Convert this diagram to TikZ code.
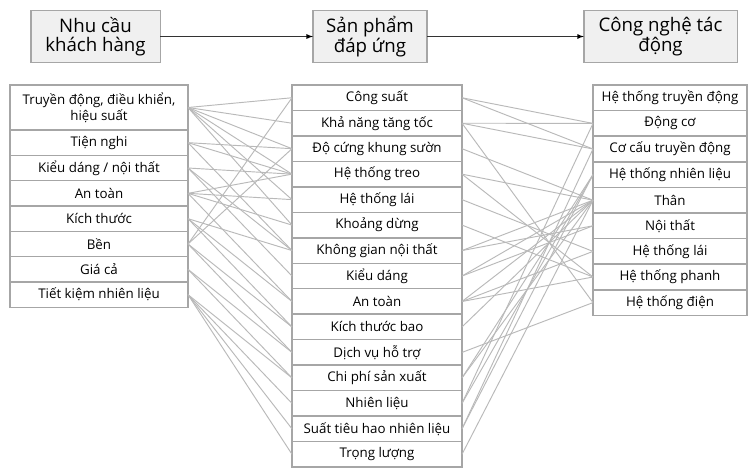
\documentclass[tikz,border=0pt]{standalone}
\usepackage{fontspec}
\setmainfont{Open Sans}
\usetikzlibrary{arrows, backgrounds, positioning}

\begin{document}
\begin{tikzpicture}[
            x=0.75pt, y=-0.75pt,
            background rectangle/.style={fill=white},
            show background rectangle,
            inner frame sep=0pt,
            node distance = 0pt,
            semithick
        ]

        \tikzstyle{head}=[
            draw=gray!70, fill=gray!12, line width=1pt,
            align=center, inner sep=1pt, outer sep=0pt,
            minimum height=39pt,
            font=\fontsize{14}{14.5}\selectfont
        ]
        \tikzstyle{row}=[
            draw=gray!70, line width=1.1pt, fill=white,
            align=center, inner sep=1pt, outer sep=0pt,
            font=\fontsize{10}{12}\selectfont
        ]
        \tikzstyle{need}=[row, minimum width=133.5pt, minimum height=19pt]
        \tikzstyle{product}=[row, minimum width=127.5pt, minimum height=19.1pt]
        \tikzstyle{tech}=[row, minimum width=115.5pt, minimum height=19.2pt]
        \tikzstyle{link}=[draw=gray!55, line width=0.7pt]
        \tikzstyle{flow}=[-latex, draw=gray!40!black, line width=0.7pt]

        \useasboundingbox (0,0) rectangle (750,472);

        % Header
        \node[head, minimum width=97pt] (hneed) at (95.5,36.5) {Nhu cầu\\khách hàng};
        \node[head, minimum width=85.5pt] (hprod) at (370,36.5) {Sản phẩm\\đáp ứng};
        \node[head, minimum width=115pt] (htech) at (660.5,36.5) {Công nghệ tác\\động};
        \path[flow] (hneed) edge node {} (hprod);
        \path[flow] (hprod) edge node {} (htech);

        % Customer needs
        \node[need, minimum height=33.75pt] (l1) at (99,107.5) {Truyền động, điều khiển,\\hiệu suất};
        \node[need] (l2) [below=of l1] {Tiện nghi};
        \node[need] (l3) [below=of l2] {Kiểu dáng / nội thất};
        \node[need] (l4) [below=of l3] {An toàn};
        \node[need] (l5) [below=of l4] {Kích thước};
        \node[need] (l6) [below=of l5] {Bền};
        \node[need] (l7) [below=of l6] {Giá cả};
        \node[need] (l8) [below=of l7] {Tiết kiệm nhiên liệu};

        % Products
        \node[product] (m1) at (377,97.75) {Công suất};
        \node[product] (m2) [below=of m1] {Khả năng tăng tốc};
        \node[product] (m3) [below=of m2] {Độ cứng khung sườn};
        \node[product] (m4) [below=of m3] {Hệ thống treo};
        \node[product] (m5) [below=of m4] {Hệ thống lái};
        \node[product] (m6) [below=of m5] {Khoảng dừng};
        \node[product] (m7) [below=of m6] {Không gian nội thất};
        \node[product] (m8) [below=of m7] {Kiểu dáng};
        \node[product] (m9) [below=of m8] {An toàn};
        \node[product] (m10) [below=of m9] {Kích thước bao};
        \node[product] (m11) [below=of m10] {Dịch vụ hỗ trợ};
        \node[product] (m12) [below=of m11] {Chi phí sản xuất};
        \node[product] (m13) [below=of m12] {Nhiên liệu};
        \node[product] (m14) [below=of m13] {Suất tiêu hao nhiên liệu};
        \node[product] (m15) [below=of m14] {Trọng lượng};

        % Technologies
        \node[tech] (r1) at (670,97.8) {Hệ thống truyền động};
        \node[tech] (r2) [below=of r1] {Động cơ};
        \node[tech] (r3) [below=of r2] {Cơ cấu truyền động};
        \node[tech] (r4) [below=of r3] {Hệ thống nhiên liệu};
        \node[tech] (r5) [below=of r4] {Thân};
        \node[tech] (r6) [below=of r5] {Nội thất};
        \node[tech] (r7) [below=of r6] {Hệ thống lái};
        \node[tech] (r8) [below=of r7] {Hệ thống phanh};
        \node[tech] (r9) [below=of r8] {Hệ thống điện};

        % Needs -> products
        \path[link] (l1.east) edge (m1.west);
        \path[link] (l1.east) edge (m2.west);
        \path[link] (l1.east) edge (m3.west);
        \path[link] (l1.east) edge (m4.west);
        \path[link] (l1.east) edge (m5.west);
        \path[link] (l1.east) edge (m6.west);
        \path[link] (l2.east) edge (m3.west);
        \path[link] (l2.east) edge (m4.west);
        \path[link] (l2.east) edge (m7.west);
        \path[link] (l3.east) edge (m4.west);
        \path[link] (l3.east) edge (m7.west);
        \path[link] (l3.east) edge (m8.west);
        \path[link] (l4.east) edge (m4.west);
        \path[link] (l4.east) edge (m5.west);
        \path[link] (l4.east) edge (m6.west);
        \path[link] (l4.east) edge (m9.west);
        \path[link] (l5.east) edge (m7.west);
        \path[link] (l5.east) edge (m9.west);
        \path[link] (l5.east) edge (m10.west);
        \path[link] (l6.east) edge (m1.west);
        \path[link] (l6.east) edge (m3.west);
        \path[link] (l6.east) edge (m10.west);
        \path[link] (l6.east) edge (m11.west);
        \path[link] (l7.east) edge (m11.west);
        \path[link] (l7.east) edge (m12.west);
        \path[link] (l8.east) edge (m12.west);
        \path[link] (l8.east) edge (m13.west);
        \path[link] (l8.east) edge (m14.west);
        \path[link] (l8.east) edge (m15.west);

        % Products -> technologies
        \path[link] (m1.east) edge (r2.west);
        \path[link] (m1.east) edge (r3.west);
        \path[link] (m2.east) edge (r2.west);
        \path[link] (m2.east) edge (r3.west);
        \path[link] (m2.east) edge (r9.west);
        \path[link] (m3.east) edge (r5.west);
        \path[link] (m4.east) edge (r5.west);
        \path[link] (m4.east) edge (r8.west);
        \path[link] (m5.east) edge (r7.west);
        \path[link] (m6.east) edge (r8.west);
        \path[link] (m7.east) edge (r5.west);
        \path[link] (m7.east) edge (r6.west);
        \path[link] (m8.east) edge (r5.west);
        \path[link] (m8.east) edge (r6.west);
        \path[link] (m9.east) edge (r5.west);
        \path[link] (m9.east) edge (r7.west);
        \path[link] (m9.east) edge (r8.west);
        \path[link] (m10.east) edge (r5.west);
        \path[link] (m11.east) edge (r9.west);
        \path[link] (m12.east) edge (r4.west);
        \path[link] (m12.east) edge (r5.west);
        \path[link] (m13.east) edge (r2.west);
        \path[link] (m13.east) edge (r4.west);
        \path[link] (m14.east) edge (r3.west);
        \path[link] (m14.east) edge (r4.west);
        \path[link] (m15.east) edge (r5.west);

    \end{tikzpicture}
\end{document}
